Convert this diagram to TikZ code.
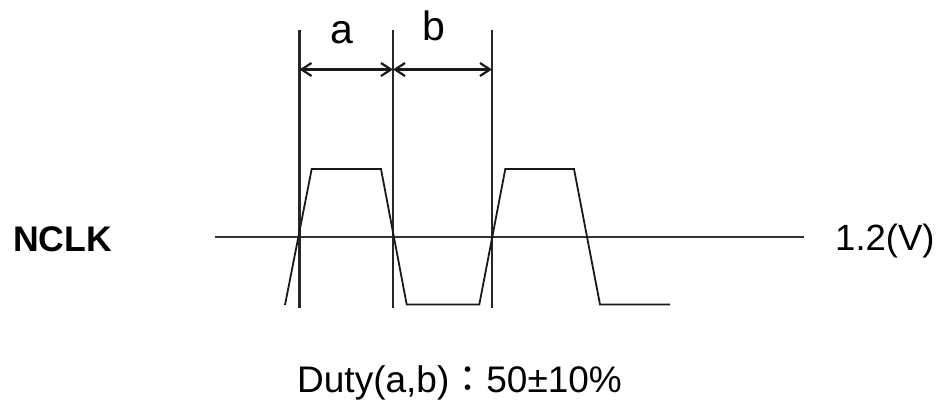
\documentclass[tikz,border=0pt]{standalone}
\usepackage{fontspec}
\setmainfont{Liberation Sans}
\newfontfamily\cjk{Noto Sans CJK TC}
\usepackage{tikz}
\usetikzlibrary{arrows.meta,positioning}
\tikzset{
  >={Straight Barb[length=10pt,width=13pt]},
  wsig/.style={black!90, line width=1.8pt, line join=miter},
  wmark/.style={black!85, line width=2.4pt},
  wref/.style={black!80, line width=2.4pt},
  wdim/.style={<->, black!90, line width=2.2pt},
  wlbl/.style={inner sep=0pt, font=\fontsize{41}{48}\selectfont},
  wtxt/.style={inner sep=0pt, font=\fontsize{37}{44}\selectfont},
}

\begin{document}
\begin{tikzpicture}[x=1pt,y=-1pt]

  \useasboundingbox (0,0) rectangle (941,405);

  % referencia 1.2 V
  \coordinate (ref0) at (215,237);
  \coordinate (ref1) at (804,237);
  \draw[wref] (ref0) -- (ref1);
  \node[wtxt, anchor=base west, font=\bfseries\fontsize{35.6}{42}\selectfont]
        (sig) at (13,251.5) {NCLK};
  \node[wtxt, anchor=base west, font=\fontsize{36.5}{44}\selectfont]
        (lvl) at (835,250) {1.2(V)};

  % marcas verticales
  \foreach \i/\x in {1/299.5, 2/393, 3/492}{
    \coordinate (m\i t) at (\x,30);
    \coordinate (m\i b) at (\x,308);
    \coordinate (d\i) at (\x,69.5);
    \draw[wmark] (m\i t) -- (m\i b);
  }

  % senal de reloj
  \draw[wsig] (285,305) -- (311.7,169) -- (381,169) -- (406.7,304.5)
        -- (479.3,304.5) -- (505.3,169) -- (574,169) -- (600,304.5)
        -- (670,304.5);

  % duracion a y b
  \draw[wdim] (d1) -- (d2);
  \draw[wdim] (d2) -- (d3);
  \node[wlbl, anchor=base] (la) at (341.5,43) {a};
  \node[wlbl, anchor=base] (lb) at (433.5,40) {b};

  \node[wtxt, anchor=base west] (duty) at (297,392)
    {Duty(a,b){\cjk ：}50±10\%};

\end{tikzpicture}
\end{document}
